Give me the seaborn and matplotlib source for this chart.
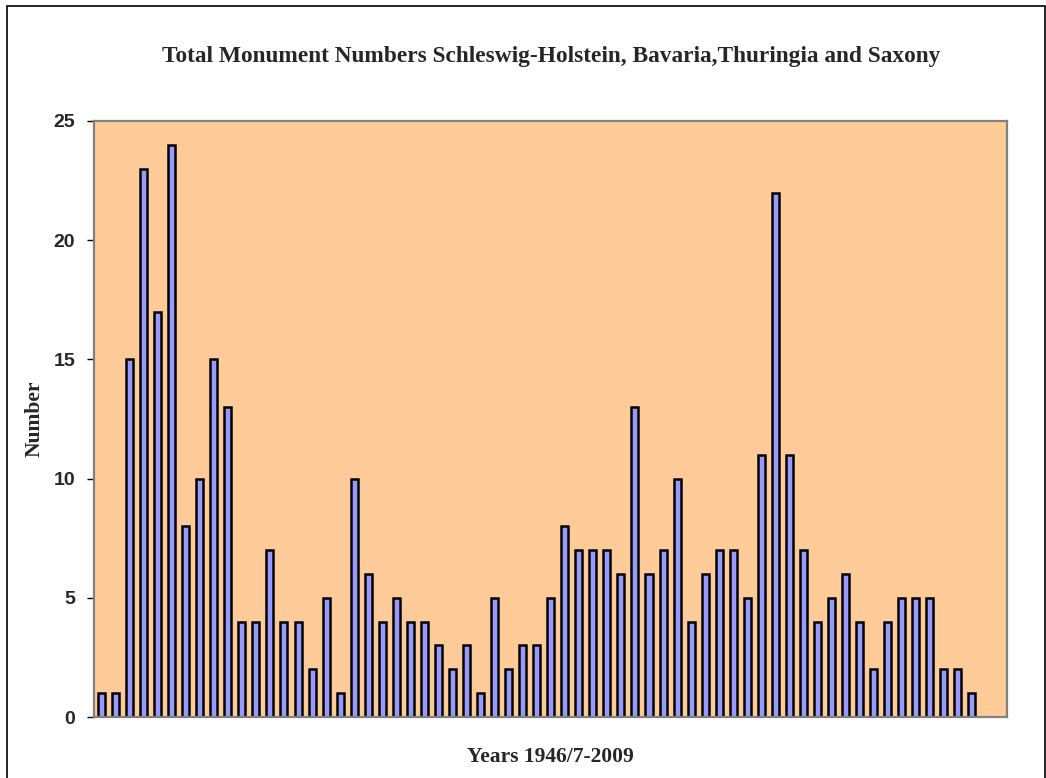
import matplotlib
matplotlib.use("Agg")
import matplotlib.pyplot as plt
import matplotlib.patches as mpatches
import pandas as pd
import seaborn as sns

# monument counts per year, 1946/7 .. 2009
counts = [1, 1, 15, 23, 17, 24, 8, 10, 15, 13,
          4, 4, 7, 4, 4, 2, 5, 1, 10, 6,
          4, 5, 4, 4, 3, 2, 3, 1, 5, 2,
          3, 3, 5, 8, 7, 7, 7, 6, 13, 6,
          7, 10, 4, 6, 7, 7, 5, 11, 22, 11,
          7, 4, 5, 6, 4, 2, 4, 5, 5, 5,
          2, 2, 1]
n_slots = 65  # category axis has two empty slots after the last bar
y_ticks = [0, 5, 10, 15, 20, 25]

title = "Total Monument Numbers Schleswig-Holstein, Bavaria,Thuringia and Saxony"
x_label = "Years 1946/7-2009"
y_label = "Number"

df = pd.DataFrame({"slot": list(range(len(counts))), "count": counts})

sns.set_style("white")
serif = ["Liberation Serif", "DejaVu Serif"]
sans = ["Liberation Sans", "DejaVu Sans"]

fig = plt.figure(figsize=(10.46, 7.78), dpi=100)
ax = fig.add_axes([0.0903, 0.0784, 0.8724, 0.7661])
ax.set_facecolor("#FFCC99")

sns.barplot(data=df, x="slot", y="count", color="#9999FF", saturation=1,
            edgecolor="black", linewidth=1.8, width=0.5, ax=ax)

ax.set_xlim(-0.5, n_slots - 0.5)
ax.set_ylim(0, 25)
ax.set_yticks(y_ticks)
ax.set_yticklabels([str(t) for t in y_ticks], family=sans, fontweight="bold", fontsize=14)
ax.set_xticks([])
ax.tick_params(axis="y", length=5, width=1, color="black", pad=9, left=True)

for s in ax.spines.values():
    s.set_color("#808080")
    s.set_linewidth(1.6)

ax.set_xlabel(x_label, family=serif, fontweight="bold", fontsize=15.5)
ax.xaxis.label.set_va("baseline")
ax.xaxis.set_label_coords(0.5, -0.0755)
ax.set_ylabel(y_label, family=serif, fontweight="bold", fontsize=15.5)
ax.yaxis.set_label_coords(-0.055, 0.5)

fig.text(0.5273, 1 - 62 / 778, title, family=serif, fontweight="bold", fontsize=16.8,
         ha="center", va="baseline")

# outer chart frame
frame = mpatches.Rectangle((7 / 1046, -0.05), 1038 / 1046, 1.05 - 6 / 778,
                           transform=fig.transFigure, fill=False,
                           edgecolor="black", linewidth=1.2, clip_on=False)
fig.patches.append(frame)

fig.savefig("out.png", dpi=100)
